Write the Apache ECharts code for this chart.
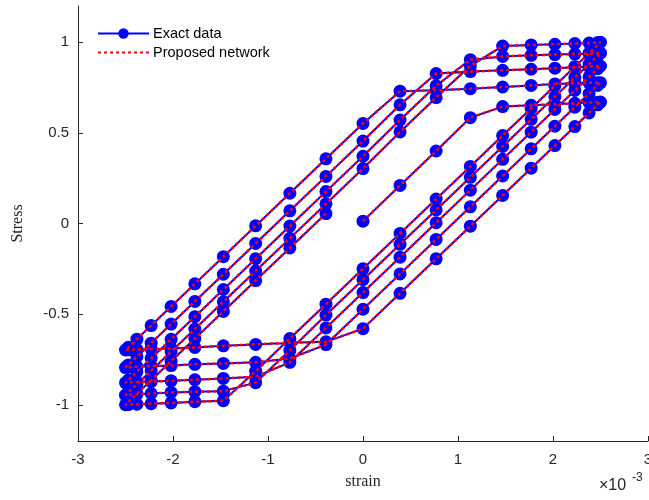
<!DOCTYPE html>
<html>
<head>
<meta charset="utf-8">
<script src="https://cdn.jsdelivr.net/npm/echarts@6/dist/echarts.min.js"></script>
<style>html,body{margin:0;padding:0;background:#fff}#chart{width:649px;height:500px}</style>
</head>
<body>
<div id="chart"></div>
<script>
// strain values (x10^-3) of one loading cycle
var strainCycle = [0, 0.39, 0.77, 1.13, 1.47, 1.77, 2.02, 2.23, 2.38, 2.47, 2.5, 2.47, 2.38, 2.23, 2.02, 1.77, 1.47, 1.13, 0.77, 0.39,
  0, -0.39, -0.77, -1.13, -1.47, -1.77, -2.02, -2.23, -2.38, -2.47, -2.5, -2.47, -2.38, -2.23, -2.02, -1.77, -1.47, -1.13, -0.77, -0.39];

// stress read for each cycle
var stressCycle1 = [0.013, 0.21, 0.40, 0.584, 0.645, 0.652, 0.658, 0.663, 0.667, 0.669, 0.67,
  0.655, 0.61, 0.535, 0.43, 0.305, 0.155, -0.015, -0.195, -0.385,
  -0.58, -0.653, -0.658, -0.667, -0.675, -0.684, -0.69, -0.693, -0.695, -0.697, -0.698,
  -0.683, -0.638, -0.563, -0.458, -0.333, -0.183, -0.013, 0.167, 0.357];
var stressCycle2 = [0.552, 0.73, 0.735, 0.744, 0.753, 0.762, 0.770, 0.774, 0.776, 0.777, 0.777,
  0.762, 0.717, 0.642, 0.537, 0.412, 0.262, 0.092, -0.088, -0.278,
  -0.473, -0.668, -0.745, -0.766, -0.772, -0.777, -0.784, -0.787, -0.790, -0.793, -0.795,
  -0.78, -0.735, -0.66, -0.555, -0.43, -0.28, -0.11, 0.07, 0.26];
var stressCycle3 = [0.455, 0.655, 0.827, 0.838, 0.845, 0.851, 0.857, 0.862, 0.866, 0.868, 0.869,
  0.854, 0.809, 0.734, 0.629, 0.504, 0.354, 0.184, 0.004, -0.186,
  -0.381, -0.576, -0.766, -0.845, -0.855, -0.862, -0.868, -0.872, -0.875, -0.877, -0.879,
  -0.864, -0.819, -0.744, -0.639, -0.514, -0.364, -0.194, -0.014, 0.176];
var stressCycle4 = [0.371, 0.571, 0.76, 0.904, 0.922, 0.928, 0.932, 0.935, 0.937, 0.939, 0.94,
  0.925, 0.88, 0.805, 0.70, 0.575, 0.425, 0.255, 0.075, -0.115,
  -0.31, -0.505, -0.70, -0.878, -0.925, -0.928, -0.932, -0.938, -0.942, -0.945, -0.947,
  -0.932, -0.887, -0.812, -0.707, -0.582, -0.432, -0.262, -0.082, 0.108];
var stressCycle5 = [0.303, 0.505, 0.695, 0.87, 0.979, 0.985, 0.989, 0.993, 0.996, 0.998, 1.0,
  0.985, 0.94, 0.865, 0.76, 0.635, 0.485, 0.315, 0.135, -0.055,
  -0.25, -0.445, -0.635, -0.815, -0.978, -0.983, -0.99, -0.994, -0.997, -0.999, -1.0,
  -0.985, -0.94, -0.865, -0.76, -0.635, -0.485, -0.315, -0.135, 0.055];

var yTicks = [-1, -0.5, 0, 0.5, 1];

var cycles = [stressCycle1, stressCycle2, stressCycle3, stressCycle4, stressCycle5];
var points = [];
cycles.forEach(function (c) {
  c.forEach(function (s, i) { points.push([strainCycle[i], s]); });
});

var chart = echarts.init(document.getElementById('chart'), null, {renderer: 'canvas'});
var sans = 'Liberation Sans, Arial, Helvetica, sans-serif';
var serif = 'Liberation Serif, DejaVu Serif, serif';
chart.setOption({
  animation: false,
  backgroundColor: '#fff',
  grid: {left: 78, right: 1, top: 6, bottom: 59, outerBoundsMode: 'none', containLabel: false},
  legend: {
    orient: 'vertical', left: 92, top: 21, itemWidth: 51, itemHeight: 13, itemGap: 4,
    textStyle: {fontFamily: sans, fontSize: 14.5, color: '#000', padding: [0, 0, 0, -1]},
    data: [
      {name: 'Exact data'},
      {name: 'Proposed network', itemStyle: {opacity: 0}}
    ]
  },
  xAxis: {
    type: 'value', min: -3, max: 3, interval: 1,
    name: 'strain', nameLocation: 'middle', nameGap: 33,
    nameTextStyle: {fontFamily: serif, fontSize: 16, color: '#262626'},
    axisLine: {onZero: false, lineStyle: {color: '#262626', width: 1}},
    axisTick: {inside: true, length: 5, lineStyle: {color: '#262626'}},
    axisLabel: {fontFamily: sans, fontSize: 15, color: '#262626', margin: 11},
    splitLine: {show: false}
  },
  yAxis: {
    type: 'value', min: -1.2, max: 1.2,
    name: 'Stress', nameLocation: 'middle', nameGap: 52, nameRotate: 90,
    nameTextStyle: {fontFamily: serif, fontSize: 16, color: '#262626'},
    axisLine: {onZero: false, lineStyle: {color: '#262626', width: 1}},
    axisTick: {inside: true, length: 5, customValues: yTicks, lineStyle: {color: '#262626'}},
    axisLabel: {fontFamily: sans, fontSize: 15, color: '#262626', margin: 9, customValues: yTicks},
    splitLine: {show: false}
  },
  graphic: [
    {type: 'text', left: 599, top: 478, style: {text: '\u00d710', font: '16px ' + sans, fill: '#262626'}},
    {type: 'text', left: 632, top: 472, style: {text: '-3', font: '12px ' + sans, fill: '#262626'}}
  ],
  series: [
    {
      name: 'Exact data', type: 'line', data: points,
      symbol: 'circle', symbolSize: 13, showSymbol: true,
      itemStyle: {color: '#0000ff'},
      lineStyle: {color: '#0000ff', width: 2},
      z: 2
    },
    {
      name: 'Proposed network', type: 'line', data: points,
      symbol: 'none', showSymbol: false,
      itemStyle: {color: '#ff0000'},
      lineStyle: {color: '#ff0000', width: 2.5, type: [3, 3]},
      z: 3
    }
  ]
});
</script>
</body>
</html>
